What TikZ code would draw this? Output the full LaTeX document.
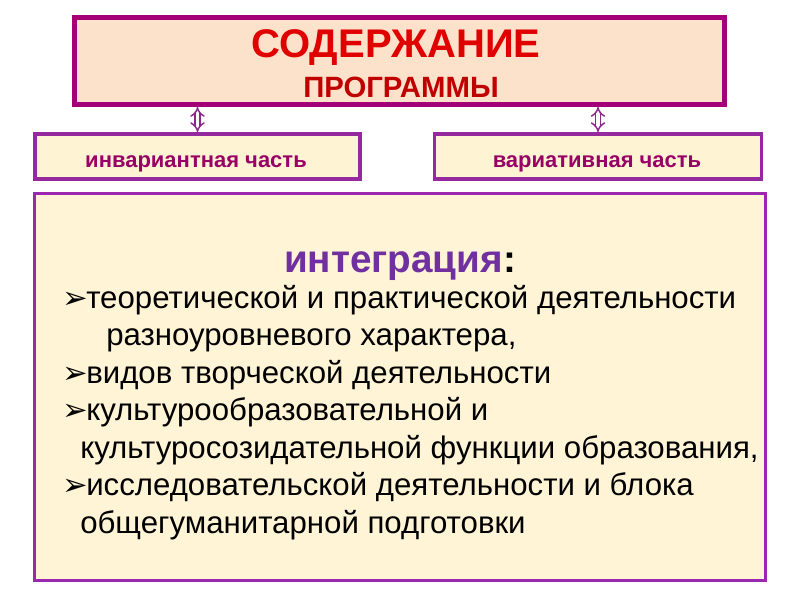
\documentclass[tikz,border=0pt]{standalone}
\usepackage{fontspec}
\setmainfont{Liberation Sans}
\newfontfamily\dejavu{DejaVu Sans}
\usetikzlibrary{arrows.meta}
\definecolor{topborder}{RGB}{163,0,120}
\definecolor{topfill}{RGB}{253,226,203}
\definecolor{boxborder}{RGB}{150,40,160}
\definecolor{boxfill}{RGB}{254,243,210}
\definecolor{bigborder}{RGB}{155,40,175}
\definecolor{bigfill}{RGB}{255,244,214}
\definecolor{titlered}{RGB}{225,0,0}
\definecolor{subred}{RGB}{192,0,0}
\definecolor{parttext}{RGB}{153,0,102}
\definecolor{integ}{RGB}{112,48,160}
\definecolor{arrowc}{RGB}{140,40,140}
\begin{document}
\begin{tikzpicture}[x=0.75pt,y=-0.75pt,
  topbox/.style={draw=topborder, fill=topfill, line width=3.75pt, inner sep=0pt,
    minimum width=487.5pt, minimum height=65.25pt},
  partbox/.style={draw=boxborder, fill=boxfill, line width=2.6pt, inner sep=0pt,
    minimum height=34pt},
  bigbox/.style={draw=bigborder, fill=bigfill, line width=2.6pt, inner sep=0pt,
    minimum width=548pt, minimum height=290pt},
  dblarrow/.style={draw=arrowc, line width=1.1pt, double=white, double distance=2.6pt,
    {Implies[length=4pt]}-{Implies[length=4pt]}},
  titletext/.style={anchor=base, inner sep=0pt, text=titlered,
    font=\fontsize{30}{32}\selectfont\bfseries},
  subtext/.style={anchor=base, inner sep=0pt, text=subred,
    font=\fontsize{22}{24}\selectfont\bfseries},
  parttxt/.style={anchor=base, inner sep=0pt, text=parttext,
    font=\fontsize{16.5}{20}\selectfont\bfseries},
  integtxt/.style={anchor=base, inner sep=0pt,
    font=\fontsize{29}{32}\selectfont\bfseries},
  bodytxt/.style={anchor=base west, inner sep=0pt,
    font=\fontsize{23.4}{28}\selectfont},
  bul/.style={anchor=base west, inner sep=0pt,
    font=\dejavu\fontsize{23}{24}\selectfont}
]
\useasboundingbox (0,0) rectangle (800,600);
\fill[white] (0,0) rectangle (800,600);

\node[topbox] (top) at (399.5,61) {};
\node[partbox, minimum width=244pt] (inv) at (197.5,156.5) {};
\node[partbox, minimum width=245pt] (var) at (598,156.5) {};
\node[bigbox] (big) at (400,387) {};

\draw[dblarrow] (top.south -| inv.north) -- (inv.north);
\draw[dblarrow] (top.south -| var.north) -- (var.north);

\node[titletext] (t1) at (396,57) {СОДЕРЖАНИЕ};
\node[subtext] (t2) at (401,97) {ПРОГРАММЫ};
\node[parttxt] (p1) at (196,167) {инвариантная часть};
\node[parttxt] (p2) at (597,167) {вариативная часть};
\node[integtxt] (ig) at (400,272) {\textcolor{integ}{интеграция}:};

\node[bul] (b1) at (62,308) {➢};
\node[bodytxt] (l1) at (86,308) {теоретической и практической деятельности};
\node[bodytxt] (l2) at (106,345.5) {разноуровневого характера,};
\node[bul] (b2) at (62,383) {➢};
\node[bodytxt] (l3) at (86,383) {видов творческой деятельности};
\node[bul] (b3) at (62,420.5) {➢};
\node[bodytxt] (l4) at (86,420.5) {культурообразовательной и};
\node[bodytxt] (l5) at (80,458) {культуросозидательной функции образования,};
\node[bul] (b4) at (62,495.5) {➢};
\node[bodytxt] (l6) at (86,495.5) {исследовательской деятельности и блока};
\node[bodytxt] (l7) at (80,533) {общегуманитарной подготовки};
\end{tikzpicture}
\end{document}
